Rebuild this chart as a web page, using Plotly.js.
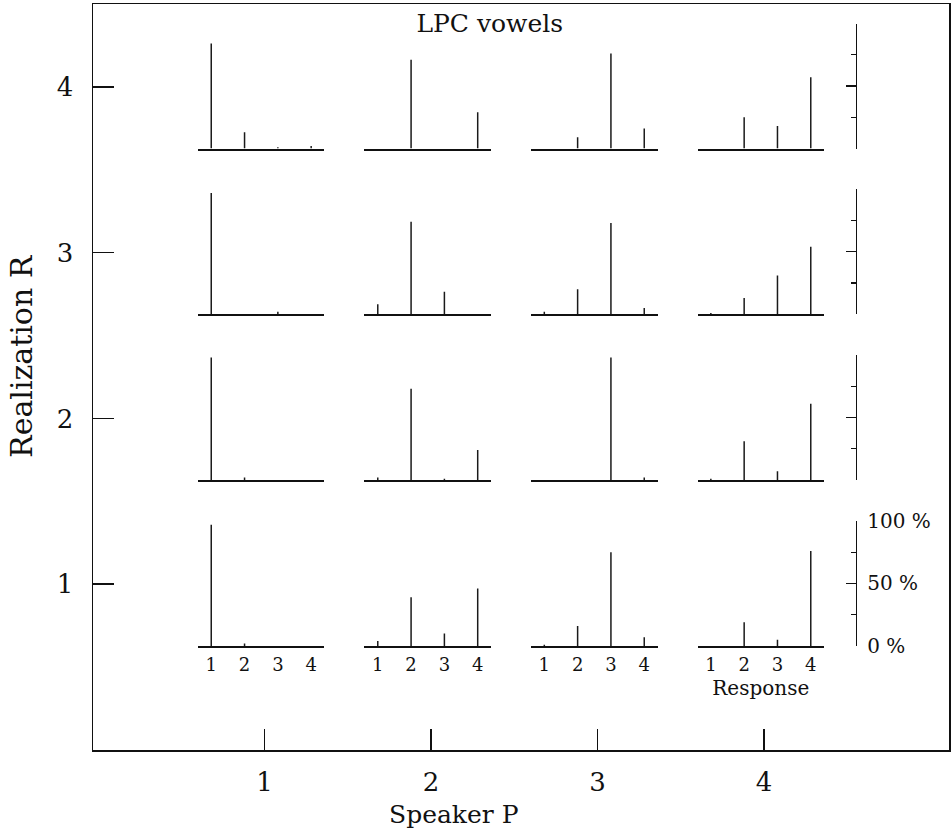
<!DOCTYPE html>
<html><head><meta charset="utf-8">
<script src="https://cdn.plot.ly/plotly-3.0.1.min.js"></script>
<style>html,body{margin:0;padding:0;background:#fff}</style>
</head><body><div id="chart" style="width:951px;height:835px"></div>
<script>
// ---- data ----
const speakers = [1, 2, 3, 4];          // Speaker P (columns)
const realizations = [1, 2, 3, 4];      // Realization R (rows)
const responses = [1, 2, 3, 4];         // response categories inside each panel
const responseLabels = ['1', '2', '3', '4'];
const pctTicks = [0, 50, 100];
const pctTickLabels = ['0 %', '50 %', '100 %'];
const pctMinorTicks = [25, 75];

// percentage of responses 1..4, one inner array per speaker P = 1..4
const pctR1 = [[97, 2, 0, 0], [4, 39, 10, 46], [1, 16, 75, 7], [0, 19, 5, 76]];
const pctR2 = [[98, 2, 0, 0], [2, 73, 1, 24], [0, 0, 98, 2], [1, 31, 7, 61]];
const pctR3 = [[97, 0, 2, 0], [8, 74, 18, 0], [2, 20, 73, 5], [1, 13, 31, 54]];
const pctR4 = [[84, 13, 1, 2], [0, 71, 0, 29], [0, 9, 76, 16], [0, 25, 18, 57]];
const pctByRealization = [pctR1, pctR2, pctR3, pctR4];

// ---- layout helpers ----
const FONT = 'DejaVu Serif, Liberation Serif, serif';
const INK = '#111';
const XR = [-0.03, 5.11], YR = [0, 4.5];
const fx = v => (v - XR[0]) / (XR[1] - XR[0]);
const fy = v => (v - YR[0]) / (YR[1] - YR[0]);
const PANEL_X = [-0.4, 0.36], PANEL_Y0 = -0.372, PANEL_H = 0.754, PCT_AXIS_X = 4.55;

const data = [{
  type: 'scatter', mode: 'markers', x: [speakers[0]], y: [realizations[0]],
  marker: {opacity: 0}, hoverinfo: 'skip', showlegend: false, xaxis: 'x', yaxis: 'y'
}];

const layout = {
  width: 951, height: 835,
  margin: {l: 93, r: 2, t: 4, b: 85},
  paper_bgcolor: '#fff', plot_bgcolor: '#fff',
  showlegend: false,
  font: {family: FONT, color: INK},
  title: {text: 'LPC vowels', x: 0.515, xanchor: 'center', y: 0.9725, yanchor: 'middle',
          font: {family: FONT, size: 25, color: INK}},
  xaxis: {domain: [0, 1], range: XR, tickvals: speakers, ticks: 'inside', ticklen: 21, tickwidth: 1.5,
          tickcolor: INK, showline: true, mirror: true, linecolor: INK, linewidth: 1.5,
          showgrid: false, zeroline: false, tickfont: {family: FONT, size: 26, color: INK},
          ticklabelstandoff: 8, fixedrange: true},
  yaxis: {domain: [0, 1], range: YR, tickvals: realizations, ticks: 'inside', ticklen: 21, tickwidth: 1.5,
          tickcolor: INK, showline: true, mirror: true, linecolor: INK, linewidth: 1.5,
          showgrid: false, zeroline: false, tickfont: {family: FONT, size: 26, color: INK},
          ticklabelstandoff: 13, fixedrange: true},
  annotations: [
    {text: 'Speaker P', xref: 'paper', yref: 'paper', x: fx(2.14), y: -0.086, xanchor: 'center', yanchor: 'middle',
     showarrow: false, font: {family: FONT, size: 25, color: INK}},
    {text: 'Realization R', xref: 'paper', yref: 'paper', x: -0.083, y: fy(2.377), textangle: -90,
     xanchor: 'center', yanchor: 'middle', showarrow: false, font: {family: FONT, size: 30, color: INK}}
  ]
};

realizations.forEach((R, ri) => {
  speakers.forEach((P, pi) => {
    const n = ri * 4 + pi + 2;
    const isBottom = R === 1, isRight = pi === 3;
    data.push({
      type: 'bar', x: responses, y: pctByRealization[ri][pi], width: 0.045,
      marker: {color: '#1a1a1a', line: {width: 0}},
      xaxis: 'x' + n, yaxis: 'y' + n, hoverinfo: 'skip', showlegend: false
    });
    const xa = {
      domain: [fx(P + PANEL_X[0]), fx(P + PANEL_X[1])], range: [0.6, 4.4], anchor: 'y' + n,
      showline: true, linecolor: INK, linewidth: 2, showgrid: false, zeroline: false,
      tickvals: responses, ticktext: responseLabels, ticks: '', showticklabels: isBottom,
      tickfont: {family: FONT, size: 18, color: INK}, ticklabelstandoff: 2, fixedrange: true
    };
    if (isBottom && isRight) {
      xa.title = {text: 'Response', standoff: 7, font: {family: FONT, size: 20, color: INK}};
    }
    const ya = {
      domain: [fy(R + PANEL_Y0), fy(R + PANEL_Y0 + PANEL_H)], range: [0, 100],
      anchor: isRight ? 'free' : 'x' + n, visible: isRight, side: 'right',
      showline: true, linecolor: INK, linewidth: 1.5, showgrid: false, zeroline: false,
      ticks: 'inside', ticklen: 10, tickwidth: 1.2, tickcolor: INK,
      tickvals: pctTicks, ticktext: pctTickLabels, showticklabels: isBottom,
      minor: {tickvals: pctMinorTicks, ticks: 'inside', ticklen: 5, tickwidth: 1.2, tickcolor: INK, showgrid: false},
      tickfont: {family: FONT, size: 20, color: INK}, ticklabelstandoff: 6, fixedrange: true
    };
    if (isRight) ya.position = fx(PCT_AXIS_X);
    layout['xaxis' + n] = xa;
    layout['yaxis' + n] = ya;
  });
});

Plotly.newPlot('chart', data, layout, {displayModeBar: false, staticPlot: true});
</script>
</body></html>
